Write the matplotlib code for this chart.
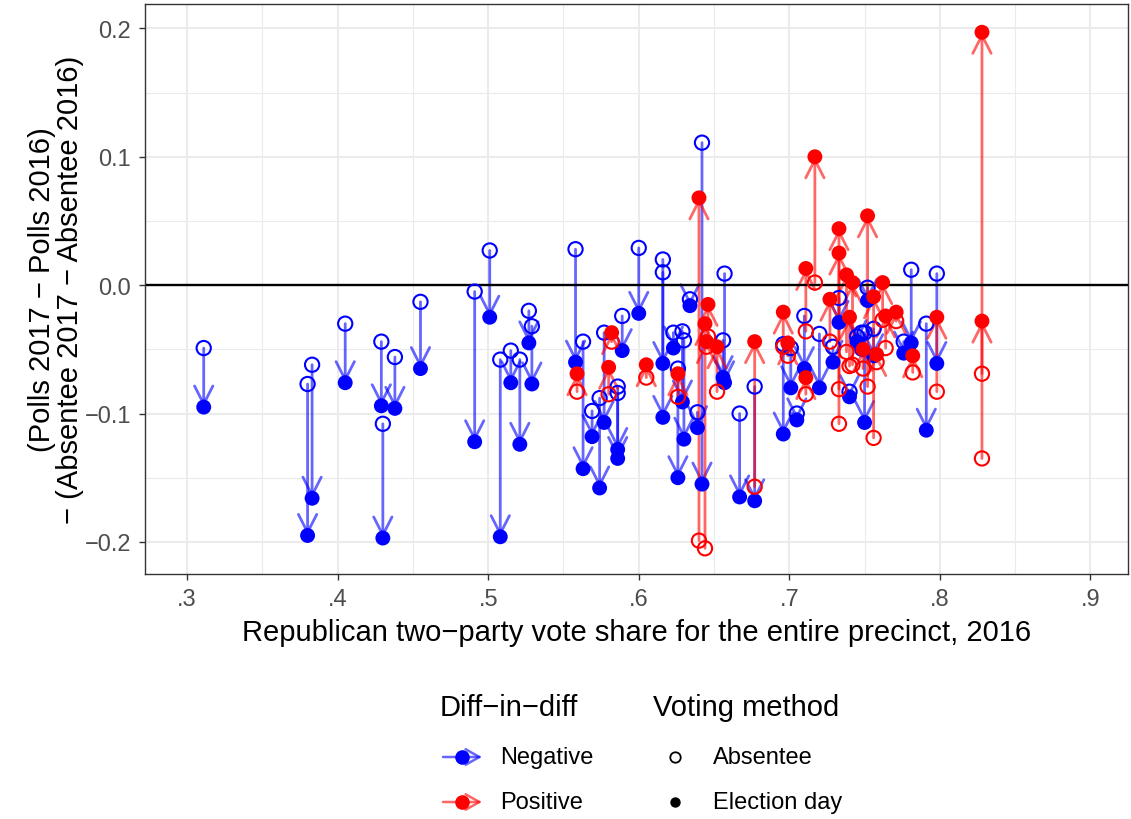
import numpy as np
import matplotlib.pyplot as plt
from matplotlib.lines import Line2D
from matplotlib.patches import FancyArrowPatch

plt.rcParams['font.family'] = ['Liberation Sans', 'DejaVu Sans']

# precincts where the diff-in-diff is negative
neg_share = [0.311, 0.380, 0.383, 0.405, 0.429, 0.430, 0.438, 0.455, 0.491, 0.501,
             0.508, 0.515, 0.521, 0.527, 0.529, 0.558, 0.563, 0.569, 0.574, 0.577,
             0.586, 0.586, 0.589, 0.600, 0.616, 0.616, 0.623, 0.626, 0.629, 0.630,
             0.634, 0.639, 0.642, 0.656, 0.657, 0.667, 0.677, 0.696, 0.701, 0.705,
             0.710, 0.720, 0.729, 0.733, 0.740, 0.745, 0.748, 0.750, 0.752, 0.756,
             0.776, 0.781, 0.791, 0.798]
neg_absentee = [-0.049, -0.077, -0.062, -0.030, -0.044, -0.108, -0.056, -0.013, -0.005, 0.027,
                -0.058, -0.051, -0.058, -0.020, -0.032, 0.028, -0.044, -0.098, -0.088, -0.037,
                -0.079, -0.084, -0.024, 0.029, 0.020, 0.010, -0.037, -0.065, -0.036, -0.043,
                -0.011, -0.099, 0.111, -0.043, 0.009, -0.100, -0.079, -0.046, -0.049, -0.100,
                -0.024, -0.038, -0.048, -0.010, -0.083, -0.040, -0.037, -0.037, -0.002, -0.034,
                -0.044, 0.012, -0.030, 0.009]
neg_polls = [-0.095, -0.195, -0.166, -0.076, -0.094, -0.197, -0.096, -0.065, -0.122, -0.025,
             -0.196, -0.076, -0.124, -0.045, -0.077, -0.060, -0.143, -0.118, -0.158, -0.107,
             -0.128, -0.135, -0.051, -0.022, -0.061, -0.103, -0.049, -0.150, -0.091, -0.120,
             -0.016, -0.111, -0.155, -0.072, -0.076, -0.165, -0.168, -0.116, -0.080, -0.105,
             -0.065, -0.080, -0.060, -0.029, -0.087, -0.044, -0.050, -0.107, -0.012, -0.055,
             -0.053, -0.045, -0.113, -0.061]

# precincts where the diff-in-diff is positive
pos_share = [0.559, 0.580, 0.582, 0.605, 0.626, 0.640, 0.644, 0.646, 0.645, 0.652,
             0.677, 0.696, 0.699, 0.711, 0.711, 0.717, 0.727, 0.733, 0.733, 0.738,
             0.740, 0.742, 0.749, 0.752, 0.756, 0.758, 0.762, 0.764, 0.771, 0.782,
             0.798, 0.828, 0.828]
pos_absentee = [-0.083, -0.085, -0.044, -0.072, -0.087, -0.199, -0.205, -0.040, -0.048, -0.083,
                -0.157, -0.048, -0.055, -0.085, -0.036, 0.002, -0.044, -0.108, -0.081, -0.052,
                -0.063, -0.062, -0.065, -0.079, -0.119, -0.060, -0.027, -0.049, -0.028, -0.068,
                -0.083, -0.135, -0.069]
pos_polls = [-0.069, -0.064, -0.037, -0.062, -0.069, 0.068, -0.030, -0.015, -0.044, -0.048,
             -0.044, -0.021, -0.045, -0.072, 0.013, 0.100, -0.011, 0.044, 0.025, 0.008,
             -0.025, 0.002, -0.050, 0.054, -0.009, -0.054, 0.002, -0.024, -0.021, -0.055,
             -0.025, 0.197, -0.028]

x_ticks = [0.3, 0.4, 0.5, 0.6, 0.7, 0.8, 0.9]
x_labels = ['.3', '.4', '.5', '.6', '.7', '.8', '.9']
y_ticks = [-0.2, -0.1, 0.0, 0.1, 0.2]
y_labels = ['\u22120.2', '\u22120.1', '0.0', '0.1', '0.2']

BLUE = '#0000FF'
RED = '#FF0000'
W, H = 1131, 820
TITLE_FS = 21
TEXT_FS = 17

fig = plt.figure(figsize=(W / 100, H / 100), dpi=100)
ax = fig.add_axes([145 / W, 1 - 575 / H, (1128 - 145) / W, (575 - 5) / H])

# grid like theme_bw
ax.set_xticks(x_ticks)
ax.set_xticklabels(x_labels)
ax.set_yticks(y_ticks)
ax.set_yticklabels(y_labels)
ax.set_xticks([0.35, 0.45, 0.55, 0.65, 0.75, 0.85], minor=True)
ax.set_yticks([-0.15, -0.05, 0.05, 0.15], minor=True)
ax.set_xlim(0.272, 0.925)
ax.set_ylim(-0.225, 0.219)
ax.grid(which='major', color='#EBEBEB', lw=1.5, zorder=0)
ax.grid(which='minor', color='#EBEBEB', lw=0.8, zorder=0)
ax.set_axisbelow(True)
ax.tick_params(which='minor', length=0)
ax.tick_params(which='major', length=4, width=1, color='#333333',
               labelcolor='#4D4D4D', labelsize=TEXT_FS, pad=6)
for s in ax.spines.values():
    s.set_color('#333333')
    s.set_linewidth(1.0)


def draw_arrows(xs, a, p, col):
    for x, y0, y1 in zip(xs, a, p):
        ax.annotate('', xy=(x, y1), xytext=(x, y0),
                    arrowprops=dict(arrowstyle='->,head_length=0.65,head_width=0.33',
                                    mutation_scale=20, color=col, alpha=0.6,
                                    lw=2.0, shrinkA=0, shrinkB=0),
                    zorder=2)


draw_arrows(neg_share, neg_absentee, neg_polls, BLUE)
draw_arrows(pos_share, pos_absentee, pos_polls, RED)

ax.axhline(0, color='black', lw=1.7, zorder=2.5)

for xs, a, p, col in [(neg_share, neg_absentee, neg_polls, BLUE),
                      (pos_share, pos_absentee, pos_polls, RED)]:
    ax.scatter(xs, a, s=105, facecolors='none', edgecolors=col, linewidths=1.5, zorder=3)
    ax.scatter(xs, p, s=115, color=col, edgecolors='none', zorder=3)

ax.set_xlabel('Republican two\u2212party vote share for the entire precinct, 2016',
              fontsize=TITLE_FS, labelpad=6)
fig.text(56 / W, 1 - 290 / H, '(Polls 2017 \u2212 Polls 2016)\n\u2212 (Absentee 2017 \u2212 Absentee 2016)',
         rotation=90, ha='center', va='center', multialignment='center',
         fontsize=TITLE_FS, linespacing=1.0)

# legend drawn by hand below the panel
def fx(px):
    return px / W


def fy(py):
    return 1 - py / H


fig.text(fx(440), fy(708), 'Diff\u2212in\u2212diff', fontsize=TITLE_FS, va='center', ha='left')
fig.text(fx(653), fy(708), 'Voting method', fontsize=TITLE_FS, va='center', ha='left')

for py, col, lab in [(758, BLUE, 'Negative'), (803, RED, 'Positive')]:
    arr = FancyArrowPatch((fx(443), fy(py)), (fx(482), fy(py)), transform=fig.transFigure,
                          arrowstyle='->,head_length=0.5,head_width=0.28', mutation_scale=20,
                          color=col, alpha=0.6, lw=1.8, shrinkA=0, shrinkB=0)
    fig.add_artist(arr)
    fig.add_artist(Line2D([fx(462)], [fy(py)], marker='o', ms=10.5, color=col, mec='none',
                          transform=fig.transFigure))
    fig.text(fx(500), fy(py), lab, fontsize=TEXT_FS, va='center', ha='left')

fig.add_artist(Line2D([fx(675)], [fy(758)], marker='o', ms=7.5, mfc='none', mec='black', mew=1.3,
                      transform=fig.transFigure))
fig.add_artist(Line2D([fx(675)], [fy(803)], marker='o', ms=7.5, color='black', mec='none',
                      transform=fig.transFigure))
fig.text(fx(713), fy(758), 'Absentee', fontsize=TEXT_FS, va='center', ha='left')
fig.text(fx(713), fy(803), 'Election day', fontsize=TEXT_FS, va='center', ha='left')

fig.savefig('out.png', dpi=100)
